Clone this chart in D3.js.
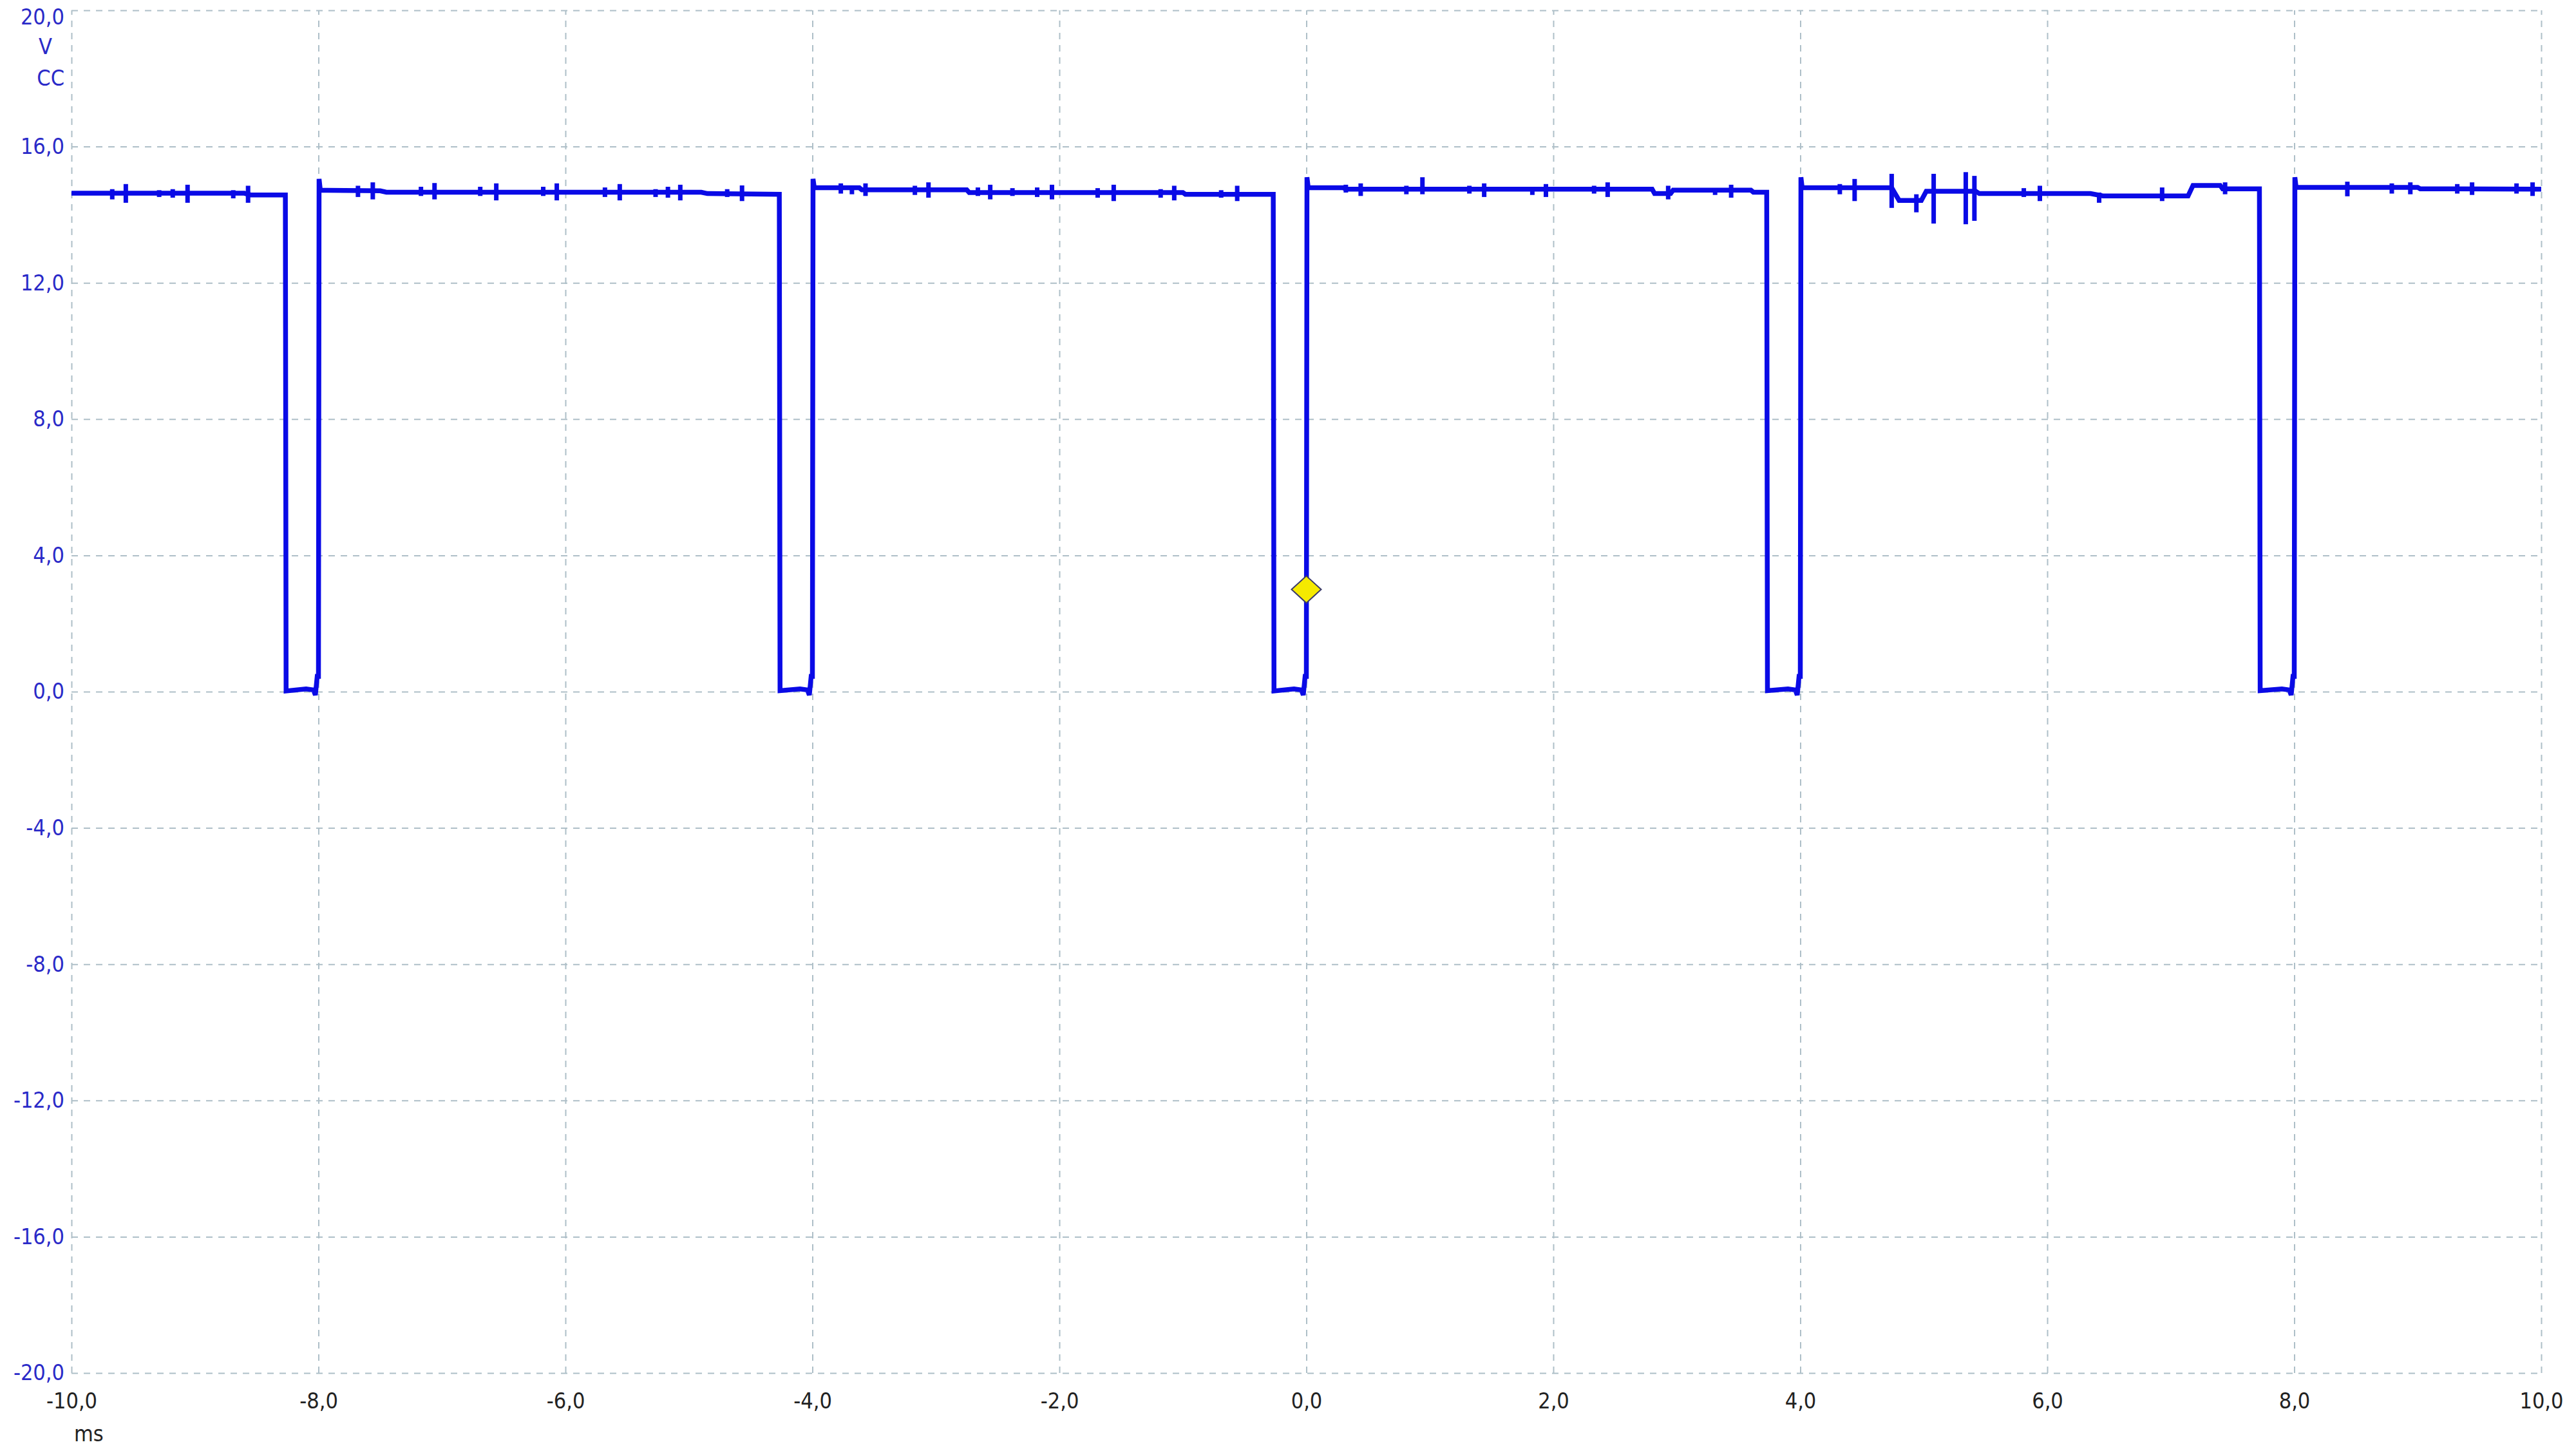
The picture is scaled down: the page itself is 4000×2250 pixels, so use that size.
<!DOCTYPE html>
<html>
<head>
<meta charset="utf-8">
<script src="https://cdn.jsdelivr.net/npm/d3@7"></script>
<style>
  html, body { margin: 0; padding: 0; background: #fff; }
  text { font-family: "DejaVu Sans Condensed", "DejaVu Sans", sans-serif; }
</style>
</head>
<body>
<div id="chart"></div>
<script>
// tick labels
var xTicks = [-10, -8, -6, -4, -2, 0, 2, 4, 6, 8, 10];
var yTicks = [-20, -16, -12, -8, -4, 0, 4, 8, 12, 16, 20];
var yUnit = ["V", "CC"];
var xUnit = "ms";

// main trace, time in ms and level in V
var traceT = [-10.0, -8.60, -8.55, -8.268, -8.262, -8.10, -8.04, -8.025, -8.01, -8.0, -7.995, -7.985, -7.50, -7.45, -4.90, -4.85, -4.268,
  -4.262, -4.10, -4.04, -4.025, -4.01, -4.0, -3.995, -3.985, -3.62, -3.60, -2.75, -2.73, -1.00, -0.98, -0.268,
  -0.262, -0.10, -0.04, -0.025, -0.01, 0.0, 0.005, 0.015, 0.30, 0.32, 2.80, 2.82, 2.95, 2.97, 3.60, 3.62, 3.728,
  3.734, 3.90, 3.96, 3.975, 3.99, 4.0, 4.005, 4.015, 4.74, 4.80, 4.98, 5.02, 5.42, 5.45, 6.35, 6.45, 7.14, 7.18, 7.40, 7.42, 7.718,
  7.724, 7.90, 7.96, 7.975, 7.99, 8.0, 8.005, 8.015, 9.00, 9.02, 10.0];
var traceV = [14.63, 14.63, 14.58, 14.58, 0.02, 0.08, 0.05, -0.10, 0.45, 0.45, 15.05, 14.72, 14.70, 14.66, 14.66, 14.62, 14.60,
  0.03, 0.08, 0.05, -0.10, 0.45, 0.45, 15.05, 14.79, 14.79, 14.73, 14.73, 14.65, 14.65, 14.60, 14.60,
  0.02, 0.08, 0.05, -0.10, 0.45, 0.45, 15.10, 14.79, 14.79, 14.75, 14.75, 14.62, 14.62, 14.72, 14.72, 14.66, 14.66,
  0.03, 0.08, 0.05, -0.10, 0.45, 0.45, 15.10, 14.79, 14.79, 14.42, 14.42, 14.69, 14.69, 14.62, 14.62, 14.55, 14.55, 14.86, 14.86, 14.76, 14.76,
  0.03, 0.08, 0.05, -0.10, 0.45, 0.45, 15.10, 14.80, 14.80, 14.76, 14.75];

// short glitches on the high level: time, top and bottom in V
var spikeT = [-9.67, -9.56, -9.29, -9.18, -9.06, -8.69, -8.57,
  -7.68, -7.56, -7.17, -7.06, -6.69, -6.56, -6.18, -6.07, -5.68, -5.56, -5.27, -5.17, -5.07, -4.69, -4.57,
  -3.77, -3.68, -3.57, -3.17, -3.06, -2.66, -2.56, -2.38, -2.18, -2.06, -1.69, -1.56, -1.18, -1.07, -0.69, -0.56,
  0.32, 0.44, 0.81, 0.94, 1.32, 1.44, 1.83, 1.94, 2.33, 2.44, 2.93, 3.31, 3.44,
  4.32, 4.44, 4.74, 4.94, 5.08, 5.34, 5.41, 5.81, 5.94, 6.42, 6.93, 7.44,
  8.43, 8.79, 8.94, 9.32, 9.44, 9.80, 9.93];
var spikeHi = [14.75, 14.90, 14.72, 14.75, 14.88, 14.72, 14.85,
  14.85, 14.95, 14.82, 14.93, 14.82, 14.92, 14.82, 14.92, 14.80, 14.90, 14.75, 14.82, 14.88, 14.75, 14.86,
  14.92, 14.85, 14.92, 14.85, 14.95, 14.80, 14.88, 14.78, 14.80, 14.88, 14.78, 14.88, 14.75, 14.85, 14.72, 14.85,
  14.88, 14.92, 14.85, 15.10, 14.85, 14.92, 14.82, 14.90, 14.85, 14.95, 14.85, 14.78, 14.88,
  14.90, 15.05, 15.20, 14.60, 15.20, 15.25, 15.14, 14.78, 14.85, 14.65, 14.80, 14.95,
  14.97, 14.92, 14.95, 14.90, 14.95, 14.92, 14.95];
var spikeLo = [14.45, 14.35, 14.52, 14.50, 14.35, 14.48, 14.35,
  14.52, 14.45, 14.55, 14.45, 14.55, 14.42, 14.55, 14.42, 14.52, 14.42, 14.52, 14.50, 14.42, 14.52, 14.40,
  14.62, 14.60, 14.55, 14.58, 14.50, 14.55, 14.45, 14.55, 14.52, 14.45, 14.50, 14.40, 14.50, 14.42, 14.50, 14.40,
  14.65, 14.55, 14.60, 14.60, 14.62, 14.52, 14.58, 14.52, 14.62, 14.52, 14.45, 14.58, 14.50,
  14.60, 14.40, 14.20, 14.07, 13.74, 13.72, 13.82, 14.52, 14.40, 14.35, 14.40, 14.60,
  14.54, 14.62, 14.60, 14.62, 14.58, 14.62, 14.55];

// trigger marker
var markerT = [0.0];
var markerV = [3.0];

var width = 4000;
var height = 2250;
var margin = {top: 16, right: 54, bottom: 118, left: 111};
var plotW = width - margin.left - margin.right;
var plotH = height - margin.top - margin.bottom;

var svg = d3.select("#chart")
            .append("svg")
            .attr("width", width)
            .attr("height", height)
            .style("display", "block")
            .style("background", "#fff");

var xScale = d3.scaleLinear()
               .domain([-10, 10])
               .range([margin.left, width - margin.right]);

var yScale = d3.scaleLinear()
               .domain([-20, 20])
               .range([height - margin.bottom, margin.top]);

var fmt = function(d) { return d3.format(".1f")(d).replace(".", ",").replace("−", "-"); };

// grid + labels
var yAxis = d3.axisLeft(yScale)
              .tickValues(yTicks)
              .tickFormat(fmt)
              .tickSizeInner(-plotW)
              .tickSizeOuter(0)
              .tickPadding(11);

var xAxis = d3.axisBottom(xScale)
              .tickValues(xTicks)
              .tickFormat(fmt)
              .tickSizeInner(-plotH)
              .tickSizeOuter(0)
              .tickPadding(31);

var gy = svg.append("g")
            .attr("transform", "translate(" + margin.left + ",0)")
            .call(yAxis);

var gx = svg.append("g")
            .attr("transform", "translate(0," + (height - margin.bottom) + ")")
            .call(xAxis);

[gx, gy].forEach(function(g) {
  g.select(".domain").remove();
  g.selectAll(".tick line")
   .attr("stroke", "#aebfc8")
   .attr("stroke-width", 2)
   .attr("stroke-dasharray", "10,9");
  g.selectAll(".tick text")
   .style("font-size", "34px")
   .style("font-family", "'DejaVu Sans Condensed', 'DejaVu Sans', sans-serif");
});

gy.selectAll(".tick text").attr("fill", "#2a2ac8");
gx.selectAll(".tick text").attr("fill", "#222");

// top label sits on the upper edge, push it down a touch so it is not clipped
gy.selectAll(".tick text")
  .filter(function(d) { return d === 20; })
  .attr("dy", "0.62em");

svg.append("text")
   .attr("x", 60)
   .attr("y", 84)
   .attr("fill", "#2a2ac8")
   .style("font-size", "34px")
   .text(yUnit[0]);

svg.append("text")
   .attr("x", 100)
   .attr("y", 133)
   .attr("text-anchor", "end")
   .attr("fill", "#2a2ac8")
   .style("font-size", "34px")
   .text(yUnit[1]);

svg.append("text")
   .attr("x", 115)
   .attr("y", 2238)
   .attr("fill", "#222")
   .style("font-size", "34px")
   .text(xUnit);

// trace
var traceData = traceT.map(function(t, i) { return [t, traceV[i]]; });

var line = d3.line()
             .x(function(d) { return xScale(d[0]); })
             .y(function(d) { return yScale(d[1]); });

var canvas = svg.append("g");

canvas.append("path")
      .datum(traceData)
      .attr("d", line)
      .attr("fill", "none")
      .attr("stroke", "#0a0ae6")
      .attr("stroke-width", 7.5)
      .attr("stroke-linejoin", "miter");

canvas.selectAll("line.spike")
      .data(spikeT)
      .enter()
      .append("line")
      .attr("class", "spike")
      .attr("x1", function(d) { return xScale(d); })
      .attr("x2", function(d) { return xScale(d); })
      .attr("y1", function(d, i) { return yScale(spikeHi[i]); })
      .attr("y2", function(d, i) { return yScale(spikeLo[i]); })
      .attr("stroke", "#0a0ae6")
      .attr("stroke-width", 7);

// yellow trigger diamond
canvas.selectAll("path.marker")
      .data(markerT)
      .enter()
      .append("path")
      .attr("class", "marker")
      .attr("d", function(d, i) {
        var cx = xScale(d), cy = yScale(markerV[i]);
        return "M" + (cx - 23) + "," + cy + "L" + cx + "," + (cy - 21) +
               "L" + (cx + 23) + "," + cy + "L" + cx + "," + (cy + 21) + "Z";
      })
      .attr("fill", "#f5ea00")
      .attr("stroke", "#3a3a6a")
      .attr("stroke-width", 2);
</script>
</body>
</html>
